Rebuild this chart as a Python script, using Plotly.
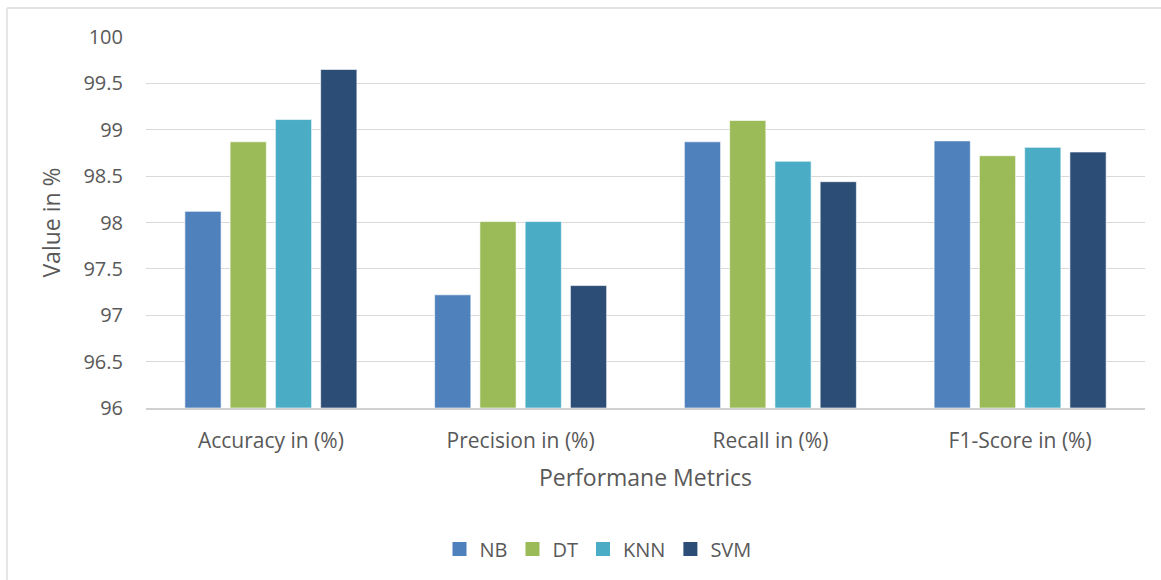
import plotly.graph_objects as go

# Performance metrics per classifier
metrics = ["Accuracy in (%)", "Precision in (%)", "Recall in (%)", "F1-Score in (%)"]
nb = [98.12, 97.22, 98.87, 98.88]
dt = [98.87, 98.01, 99.10, 98.72]
knn = [99.11, 98.01, 98.66, 98.81]
svm = [99.65, 97.32, 98.44, 98.76]

series = [
    ("NB", nb, "#4F81BD"),
    ("DT", dt, "#9BBB59"),
    ("KNN", knn, "#4BACC6"),
    ("SVM", svm, "#2C4D75"),
]

y_floor = 96
y_ticks = [96, 96.5, 97, 97.5, 98, 98.5, 99, 99.5, 100]
y_tick_text = ["96", "96.5", "97", "97.5", "98", "98.5", "99", "99.5", "100"]

FONT = "Open Sans"
TEXT = "#595959"

fig = go.Figure()
for name, vals, color in series:
    # bars rise from the axis floor
    fig.add_trace(go.Bar(
        name=name, x=metrics, y=[v - y_floor for v in vals], base=y_floor,
        marker_color=color,
        marker_line=dict(color="rgba(255,255,255,0.6)", width=1),
        showlegend=False, legendgroup=name,
    ))
for name, vals, color in series:
    # larger square swatches for the legend
    fig.add_trace(go.Scatter(
        name=name, x=[None], y=[None], mode="markers",
        marker=dict(symbol="square", size=14, color=color),
        legendgroup=name,
    ))

L, R, T, B = 146, 16, 37, 172
W, H = 1161, 580
pw, ph = W - L - R, H - T - B

fig.update_layout(
    width=W, height=H,
    margin=dict(l=L, r=R, t=T, b=B),
    paper_bgcolor="white", plot_bgcolor="white",
    barmode="group", bargap=0.275, bargroupgap=0.2,
    font=dict(family=FONT, color=TEXT, size=20),
    showlegend=True,
    legend=dict(
        orientation="h", x=(598 - L) / pw, xanchor="center",
        y=-(549 - (T + ph)) / ph, yanchor="middle",
        font=dict(size=20, color=TEXT), traceorder="normal",
        itemwidth=30,
    ),
    xaxis=dict(
        showgrid=False, showline=True, linecolor="#d0d0d0", linewidth=1.5,
        ticks="", ticklabelstandoff=13,
        tickfont=dict(size=21, color=TEXT),
        title=dict(text="Performane Metrics", font=dict(size=23, color=TEXT), standoff=17),
    ),
    yaxis=dict(
        range=[96, 100], tickvals=y_ticks, ticktext=y_tick_text,
        showgrid=True, gridcolor="#d9d9d9", gridwidth=1.3,
        zeroline=False, showline=False, ticks="", ticklabelstandoff=22,
        tickfont=dict(size=20, color=TEXT),
        title=dict(text="Value in %", font=dict(size=23, color=TEXT), standoff=16),
    ),
    shapes=[
        dict(type="line", xref="paper", yref="paper",
             x0=(7 - L) / pw, x1=(7 - L) / pw, y0=(T + ph - 8) / ph, y1=-(H - T - ph) / ph - 0.1,
             line=dict(color="#d9d9d9", width=1.3)),
        dict(type="line", xref="paper", yref="paper",
             x0=(7 - L) / pw, x1=(W - L) / pw + 0.05, y0=(T + ph - 8) / ph, y1=(T + ph - 8) / ph,
             line=dict(color="#d9d9d9", width=1.3)),
    ],
)

fig.write_html("out.html")
